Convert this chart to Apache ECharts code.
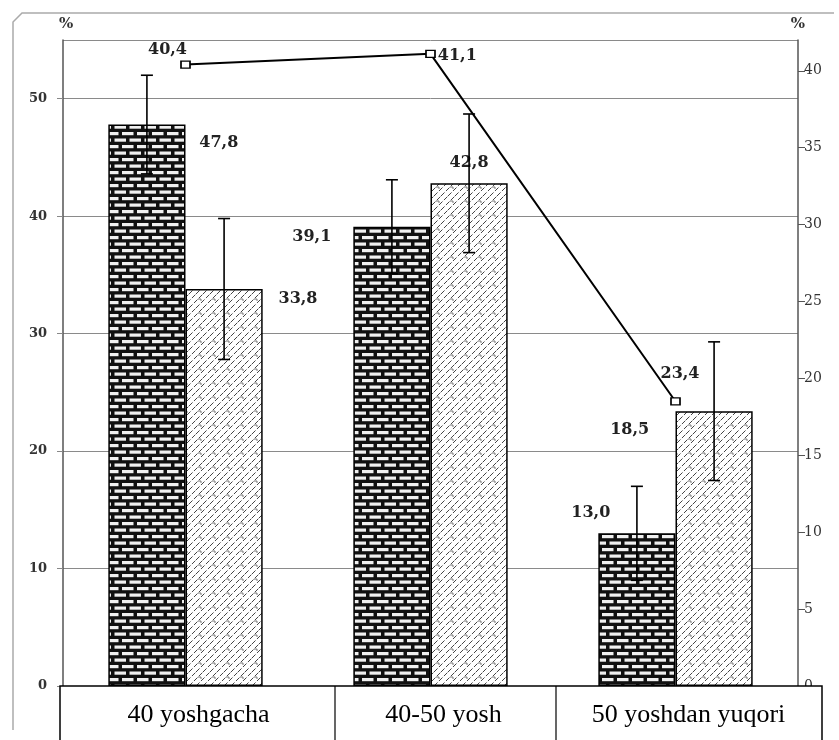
<!DOCTYPE html>
<html>
<head>
<meta charset="utf-8">
<script src="https://cdn.jsdelivr.net/npm/echarts@6/dist/echarts.min.js"></script>
<style>
html,body{margin:0;padding:0;background:#fff;}
#chart{width:839px;height:740px;}
</style>
</head>
<body>
<div id="chart"></div>
<script>
// ---- data ----
const categories = ['40 yoshgacha', '40-50 yosh', '50 yoshdan yuqori'];
const darkValues = [47.8, 39.1, 13.0];
const lightValues = [33.8, 42.8, 23.4];
const darkErr = [4.2, 4.0, 4.0];
const lightErr = [6.0, 5.9, 5.9];
const lineValues = [40.4, 41.1, 18.5];
const leftAxis = { min: 0, max: 55, interval: 10 };
const rightAxis = { min: 0, max: 42, interval: 5 };

// ---- styles (positions of labels, not data) ----
const darkLabelStyle = [
  { position: [91, 10], align: 'left', verticalAlign: 'top' },
  { position: [-22, 2], align: 'right', verticalAlign: 'top' },
  { position: [12, -28], align: 'right', verticalAlign: 'top' }
];
const lightLabelStyle = [
  { position: [93, 2], align: 'left', verticalAlign: 'top' },
  { position: 'top', distance: 12 },
  { position: [-15, -45], align: 'left', verticalAlign: 'top' }
];
const lineLabelStyle = [
  { position: 'top', distance: 3, offset: [-18, 0] },
  { position: 'right', distance: 2, offset: [0, 2] },
  { position: 'left', distance: 21, offset: [0, 28] }
];

function fmt(v) { return v.toFixed(1).replace('.', ','); }

function brickPattern() {
  const c = document.createElement('canvas');
  c.width = 30; c.height = 13;
  const g = c.getContext('2d');
  g.fillStyle = '#111';
  g.fillRect(0, 0, 30, 13);
  g.fillStyle = '#f0f0f0';
  g.fillRect(2, 2, 11.5, 3.2);
  g.fillRect(17, 2, 11.5, 3.2);
  g.fillRect(0, 8.5, 6, 3.2);
  g.fillRect(9.5, 8.5, 11.5, 3.2);
  g.fillRect(24.5, 8.5, 5.5, 3.2);
  return c;
}
function hatchPattern() {
  const c = document.createElement('canvas');
  c.width = 14; c.height = 14;
  const g = c.getContext('2d');
  g.fillStyle = '#ffffff';
  g.fillRect(0, 0, 14, 14);
  g.strokeStyle = '#444';
  g.lineWidth = 1;
  g.setLineDash([5, 2]);
  for (let k = -14; k <= 28; k += 7) {
    g.beginPath();
    g.moveTo(k, 14);
    g.lineTo(k + 14, 0);
    g.stroke();
  }
  g.setLineDash([]);
  g.strokeStyle = '#777';
  g.beginPath();
  g.moveTo(2, 5); g.lineTo(5, 5); g.lineTo(5, 7);
  g.stroke();
  return c;
}

const serifNum = 'DejaVu Serif';
const barBorder = { borderColor: '#000', borderWidth: 1.5 };

function errorSeries(values, errs, side) {
  return {
    type: 'custom',
    xAxisIndex: 0, yAxisIndex: 0,
    z: 5,
    silent: true,
    data: values.map((v, i) => [i, v, errs[i]]),
    encode: { x: 0, y: 1 },
    renderItem: function (params, api) {
      const i = api.value(0), v = api.value(1), e = api.value(2);
      const c = api.coord([i, v]);
      const bandW = api.size([1, 0])[0];
      const barW = bandW * 0.63 / 2;
      const x = c[0] + side * barW / 2;
      const top = api.coord([i, v + e])[1];
      const bot = api.coord([i, v - e])[1];
      const cap = 6;
      const st = { stroke: '#000', lineWidth: 1.6 };
      return {
        type: 'group',
        children: [
          { type: 'line', shape: { x1: x, y1: top, x2: x, y2: bot }, style: st },
          { type: 'line', shape: { x1: x - cap, y1: top, x2: x + cap, y2: top }, style: st },
          { type: 'line', shape: { x1: x - cap, y1: bot, x2: x + cap, y2: bot }, style: st }
        ]
      };
    }
  };
}

const chart = echarts.init(document.getElementById('chart'));

const labelFont = { fontFamily: serifNum, fontSize: 16, fontWeight: 'bold', color: '#222' };

const option = {
  animation: false,
  backgroundColor: '#fff',
  grid: { left: 63, right: 41, top: 40, bottom: 54, containLabel: false },
  xAxis: {
    type: 'category',
    data: categories,
    axisLine: { show: false },
    axisTick: { show: false },
    axisLabel: {
      margin: 16,
      formatter: function (v) { return '{t|' + v + '}'; },
      rich: {
        t: { fontFamily: 'Liberation Serif', fontSize: 26, color: '#000', padding: [0, 0, 0, 26] }
      }
    },
    z: 20
  },
  yAxis: [
    {
      type: 'value', position: 'left',
      min: leftAxis.min, max: leftAxis.max, interval: leftAxis.interval,
      name: '%', nameLocation: 'end', nameGap: 8,
      nameTextStyle: { fontFamily: serifNum, fontSize: 15, fontWeight: 'bold', color: '#333', align: 'left', padding: [0, 0, 0, -4] },
      axisLine: { show: true, lineStyle: { color: '#555', width: 1.5 } },
      axisTick: { show: true, length: 6, lineStyle: { color: '#888' } },
      axisLabel: { showMaxLabel: false, margin: 16, fontFamily: serifNum, fontSize: 13, fontWeight: 'bold', color: '#333' },
      splitLine: { show: true, lineStyle: { color: '#8a8a8a', width: 1 } }
    },
    {
      type: 'value', position: 'right',
      min: rightAxis.min, max: rightAxis.max, interval: rightAxis.interval,
      name: '%', nameLocation: 'end', nameGap: 8,
      nameTextStyle: { fontFamily: serifNum, fontSize: 15, fontWeight: 'bold', color: '#333' },
      axisLine: { show: true, lineStyle: { color: '#555', width: 1.5 } },
      axisTick: { show: true, length: 7, lineStyle: { color: '#555' } },
      axisLabel: { showMaxLabel: false, margin: 6, fontFamily: serifNum, fontSize: 14, color: '#333' },
      splitLine: { show: false }
    }
  ],
  series: [
    {
      type: 'bar',
      yAxisIndex: 0,
      barGap: '0%',
      barCategoryGap: '37%',
      itemStyle: Object.assign({ color: { image: brickPattern(), repeat: 'repeat' } }, barBorder),
      data: darkValues.map((v, i) => ({
        value: v,
        label: Object.assign({ show: true, formatter: fmt(v) }, labelFont, darkLabelStyle[i])
      }))
    },
    {
      type: 'bar',
      yAxisIndex: 0,
      barGap: '0%',
      barCategoryGap: '37%',
      itemStyle: Object.assign({ color: { image: hatchPattern(), repeat: 'repeat' } }, barBorder),
      data: lightValues.map((v, i) => ({
        value: v,
        label: Object.assign({ show: true, formatter: fmt(v) }, labelFont, lightLabelStyle[i])
      }))
    },
    errorSeries(darkValues, darkErr, -1),
    errorSeries(lightValues, lightErr, 1),
    {
      type: 'line',
      yAxisIndex: 1,
      z: 10,
      symbol: 'rect',
      symbolSize: [9, 7],
      showAllSymbol: true,
      lineStyle: { color: '#000', width: 2 },
      itemStyle: { color: '#fff', borderColor: '#000', borderWidth: 1.5 },
      data: lineValues.map((v, i) => ({
        value: v,
        label: Object.assign({ show: true, formatter: fmt(v) }, labelFont, lineLabelStyle[i])
      }))
    }
  ],
  graphic: [
    {
      type: 'polyline', z: 0, silent: true,
      shape: { points: [[13, 730], [13, 22], [22, 13], [834, 13]] },
      style: { stroke: '#aaa', lineWidth: 1.5, fill: null }
    },
    {
      type: 'rect', z: 15, silent: true,
      shape: { x: 60, y: 686, width: 762, height: 70 },
      style: { fill: '#fff', stroke: '#000', lineWidth: 1.5 }
    },
    {
      type: 'line', z: 16, silent: true,
      shape: { x1: 335, y1: 686, x2: 335, y2: 760 },
      style: { stroke: '#000', lineWidth: 1.2 }
    },
    {
      type: 'line', z: 16, silent: true,
      shape: { x1: 556, y1: 686, x2: 556, y2: 760 },
      style: { stroke: '#000', lineWidth: 1.2 }
    }
  ]
};
chart.setOption(option);
</script>
</body>
</html>
